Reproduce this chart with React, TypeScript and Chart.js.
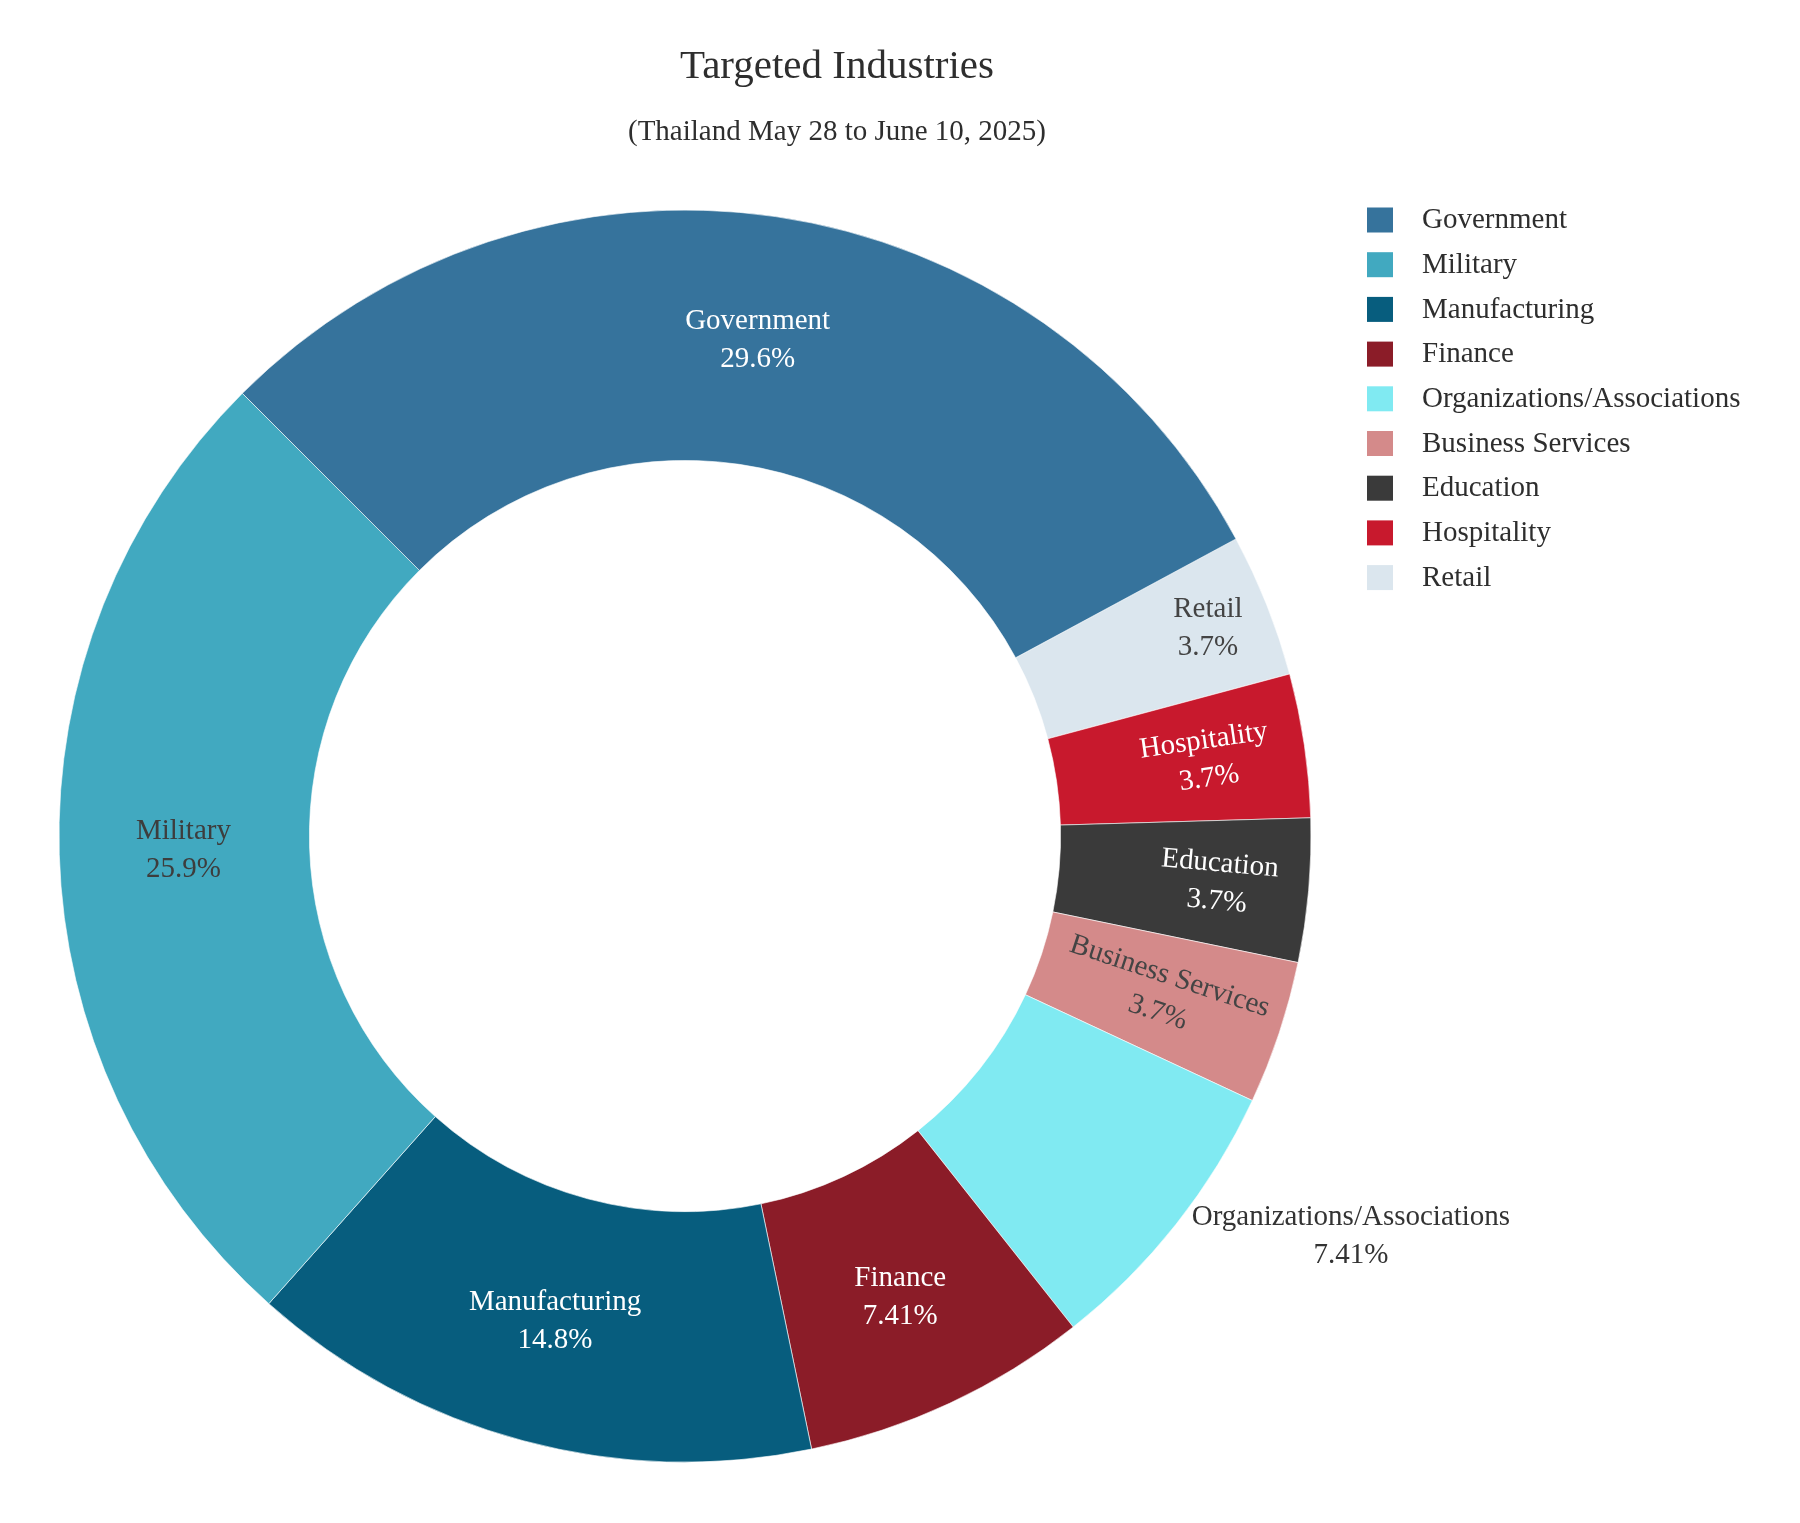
import React, { useEffect, useRef } from "react";
import { Chart, registerables } from "chart.js";

Chart.register(...registerables);

// ---------------- data ----------------
const TITLE = "Targeted Industries";
const SUBTITLE = "(Thailand May 28 to June 10, 2025)";

// legend order (as in the reference legend)
const CATEGORIES = [
  "Government",
  "Military",
  "Manufacturing",
  "Finance",
  "Organizations/Associations",
  "Business Services",
  "Education",
  "Hospitality",
  "Retail",
];
// counts behind the shown shares (29.6%, 25.9%, 14.8%, 7.41%, 7.41%, 3.7% x4)
const COUNTS = [8, 7, 4, 2, 2, 1, 1, 1, 1];

// ---------------- styles ----------------
const COLORS = [
  "#36739c",
  "#41a9c0",
  "#075d7e",
  "#8b1c28",
  "#80eaf2",
  "#d48a8a",
  "#3a3a3a",
  "#c8192d",
  "#dbe6ee",
];
const LABEL_TEXT_COLORS = ["#ffffff", "#3d3d3d", "#ffffff", "#ffffff", "#333333", "#444444", "#ffffff", "#ffffff", "#444444"];
const LABEL_RING_POS = [0.502, 0.504, 0.505, 0.534, 0, 0.514, 0.638, 0.605, 0.747];
const LABEL_ROTATE = [false, false, false, false, false, true, true, true, false];
const LABEL_OUTSIDE = [false, false, false, false, true, false, false, false, false];

const FONT = '"Liberation Serif", "Times New Roman", Times, serif';
const CANVAS_W = 1784;
const CANVAS_H = 1500;

// slices are drawn clockwise, legend order runs counter-clockwise
const ORDER = CATEGORIES.map((_, i) => CATEGORIES.length - 1 - i);

const fmtPct = (v: number, total: number) => `${parseFloat(((100 * v) / total).toPrecision(3))}%`;

const overlayPlugin = {
  id: "overlayPlugin",
  afterDatasetsDraw(chart: any) {
    const ctx: CanvasRenderingContext2D = chart.ctx;
    const meta = chart.getDatasetMeta(0);
    const values = chart.data.datasets[0].data as number[];
    const total = values.reduce((a, b) => a + b, 0);
    const lineGap = 19;
    ctx.save();
    ctx.font = `29px ${FONT}`;
    ctx.textBaseline = "middle";
    ctx.textAlign = "center";
    meta.data.forEach((el: any, j: number) => {
      const i = ORDER[j];
      const { x, y, startAngle, endAngle, innerRadius, outerRadius } = el.getProps(
        ["x", "y", "startAngle", "endAngle", "innerRadius", "outerRadius"],
        true
      );
      const mid = (startAngle + endAngle) / 2;
      const lines = [String(chart.data.labels[j]), fmtPct(values[j], total)];
      ctx.fillStyle = LABEL_TEXT_COLORS[i];
      if (LABEL_OUTSIDE[i]) {
        const r = outerRadius + 20;
        const ax = x + r * Math.cos(mid);
        const ay = y + r * Math.sin(mid);
        const w = Math.max(...lines.map((l) => ctx.measureText(l).width));
        const cx = Math.cos(mid) >= 0 ? ax + w / 2 : ax - w / 2;
        ctx.fillText(lines[0], cx, ay - lineGap);
        ctx.fillText(lines[1], cx, ay + lineGap);
      } else {
        const r = innerRadius + LABEL_RING_POS[i] * (outerRadius - innerRadius);
        const px = x + r * Math.cos(mid);
        const py = y + r * Math.sin(mid);
        ctx.save();
        ctx.translate(px, py);
        if (LABEL_ROTATE[i]) {
          let rot = mid;
          if (Math.cos(mid) < 0) rot += Math.PI;
          ctx.rotate(rot);
        }
        ctx.fillText(lines[0], 0, -lineGap);
        ctx.fillText(lines[1], 0, lineGap);
        ctx.restore();
      }
    });
    ctx.restore();
  },
  afterDraw(chart: any) {
    const ctx: CanvasRenderingContext2D = chart.ctx;
    ctx.save();
    // title + subtitle
    ctx.fillStyle = "#2e2e2e";
    ctx.textAlign = "center";
    ctx.textBaseline = "alphabetic";
    ctx.font = `41px ${FONT}`;
    ctx.fillText(TITLE, 829, 70);
    ctx.font = `29px ${FONT}`;
    ctx.fillText(SUBTITLE, 829, 132);

    // legend (legend order)
    const labels = chart.data.labels as string[];
    const colors = chart.data.datasets[0].backgroundColor as string[];
    const boxX = 1359;
    const top = 199.5;
    const step = 44.7;
    ctx.textAlign = "left";
    ctx.textBaseline = "middle";
    ctx.font = `29px ${FONT}`;
    for (let k = 0; k < labels.length; k++) {
      const j = labels.length - 1 - k;
      const yy = top + k * step;
      ctx.fillStyle = colors[j];
      ctx.fillRect(boxX, yy, 26, 25);
      ctx.fillStyle = "#2e2e2e";
      ctx.fillText(labels[j], 1414, yy + 13);
    }
    ctx.restore();
  },
};

export default function App() {
  const canvasRef = useRef<HTMLCanvasElement | null>(null);

  useEffect(() => {
    if (!canvasRef.current) return;
    const chart = new Chart(canvasRef.current, {
      type: "doughnut",
      data: {
        labels: ORDER.map((i) => CATEGORIES[i]),
        datasets: [
          {
            data: ORDER.map((i) => COUNTS[i]),
            backgroundColor: ORDER.map((i) => COLORS[i]),
            borderColor: "rgba(255,255,255,0.6)",
            borderWidth: 1,
          },
        ],
      },
      options: {
        responsive: false,
        maintainAspectRatio: false,
        animation: false,
        events: [],
        rotation: 61.667,
        radius: 626,
        cutout: "60%",
        layout: { padding: { left: 0, right: 430, top: 156, bottom: 0 } },
        plugins: {
          legend: { display: false },
          tooltip: { enabled: false },
          title: { display: false },
        },
      } as any,
      plugins: [overlayPlugin],
    });
    return () => chart.destroy();
  }, []);

  return (
    <div style={{ width: CANVAS_W, height: CANVAS_H }}>
      <canvas ref={canvasRef} width={CANVAS_W} height={CANVAS_H} style={{ display: "block" }} />
    </div>
  );
}
